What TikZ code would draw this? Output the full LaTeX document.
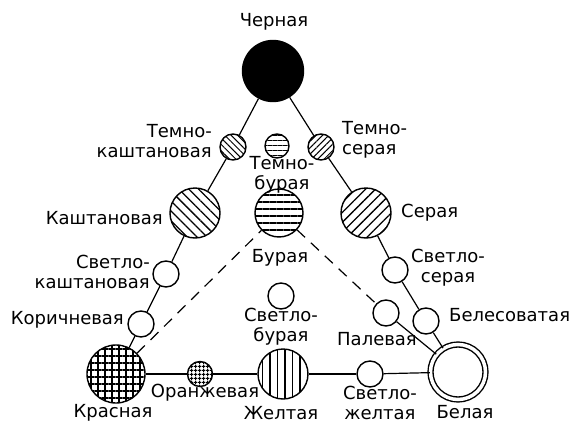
\documentclass[tikz,border=0pt]{standalone}
\usepackage{fontspec}
\setmainfont{DejaVu Sans}
\usetikzlibrary{patterns.meta}

\begin{document}
\begin{tikzpicture}[x = 1pt, y = -1pt,
    soil/.style = {circle, draw, line width = 1.4pt, inner sep = 0pt},
    bigsoil/.style = {soil, minimum size = 50pt},
    smallsoil/.style = {soil, minimum size = 26pt},
    lbl/.style = {font = \fontsize{18}{20}\selectfont, inner sep = 0pt},
    link/.style = {line width = 1.2pt},
    dlink/.style = {line width = 1.2pt, dash pattern = on 11pt off 8pt}
  ]
  \useasboundingbox (0,0) rectangle (574,426);

  % Ряд черная - красная / черная - белая
  \node[soil, fill = black, minimum size = 61pt] (chern) at (273,71) {};
  \node[smallsoil, pattern = {Lines[angle=-45, distance=4.5pt, line width=1pt]}] (tkasht) at (233,147) {};
  \node[smallsoil, minimum size = 24pt, pattern = {Lines[angle=0, distance=5pt, line width=1pt]}] (tbur) at (277,146) {};
  \node[smallsoil, pattern = {Lines[angle=45, distance=4.5pt, line width=1pt]}] (tser) at (321,147) {};
  \node[bigsoil, pattern = {Lines[angle=-45, distance=7pt, line width=1.3pt]}] (kasht) at (195,213) {};
  \node[bigsoil, minimum size = 48pt, pattern = {Lines[angle=0, distance=7pt, line width=1.3pt]}] (bur) at (279,213) {};
  \node[bigsoil, pattern = {Lines[angle=45, distance=7pt, line width=1.3pt]}] (ser) at (366,213) {};
  \node[smallsoil] (skasht) at (166,274) {};
  \node[smallsoil] (sser)   at (395,270) {};
  \node[smallsoil] (korich) at (141,324) {};
  \node[smallsoil] (sbur)   at (281,296) {};
  \node[smallsoil] (palev)  at (386,313) {};
  \node[smallsoil] (beles)  at (426,321) {};

  % Нижний ряд
  \node[soil, minimum size = 58pt, pattern = {Hatch[distance=7pt, line width=1.2pt]}] (krasn) at (116,374) {};
  \node[soil, minimum size = 25pt, pattern = {Hatch[distance=4pt, line width=1pt]}] (oranzh) at (200,374) {};
  \node[bigsoil, pattern = {Lines[angle=90, distance=7.5pt, line width=1.3pt]}] (zhelt) at (283,374) {};
  \node[smallsoil] (szhelt) at (370,374) {};
  \node[soil, double, double distance = 3.5pt, minimum size = 55pt] (bel) at (458,372) {};

  % Связи
  \foreach \a/\b in {chern/tkasht, tkasht/kasht, kasht/skasht, skasht/korich, korich/krasn,
                     chern/tser, tser/ser, ser/sser, sser/beles, beles/bel,
                     krasn/oranzh, oranzh/zhelt, zhelt/szhelt, szhelt/bel, palev/bel}
    \draw[link] (\a) -- (\b);
  \draw[dlink] (krasn) -- (bur);
  \draw[dlink] (bur) -- (palev);

  % Подписи
  \node[lbl] (lchern) at (274,22) {Черная};
  \node[lbl, anchor = east, align = right] (ltkasht) at (212,141) {Темно-\\каштановая};
  \node[lbl, anchor = west, align = left] (ltser) at (342,140) {Темно-\\серая};
  \node[lbl, align = center] (ltbur) at (282,175) {Темно-\\бурая};
  \node[lbl, anchor = east] (lkasht) at (163,218) {Каштановая};
  \node[lbl] (lbur) at (280,258) {Бурая};
  \node[lbl, anchor = west] (lser) at (401,213) {Серая};
  \node[lbl, anchor = east, align = right] (lskasht) at (150,272) {Светло-\\каштановая};
  \node[lbl, align = center] (lsser) at (448,268) {Светло-\\серая};
  \node[lbl, anchor = east] (lkorich) at (124,320) {Коричневая};
  \node[lbl, align = center] (lsbur) at (281,327) {Светло-\\бурая};
  \node[lbl, anchor = west] (lbeles) at (449,315) {Белесоватая};
  \node[lbl] (lpalev) at (377,339) {Палевая};
  \node[lbl] (loranzh) at (205,393) {Оранжевая};
  \node[lbl] (lkrasn) at (113,413) {Красная};
  \node[lbl] (lzhelt) at (281,413) {Желтая};
  \node[lbl, align = center] (lszhelt) at (380,403) {Светло-\\желтая};
  \node[lbl] (lbel) at (465,412) {Белая};
\end{tikzpicture}
\end{document}
